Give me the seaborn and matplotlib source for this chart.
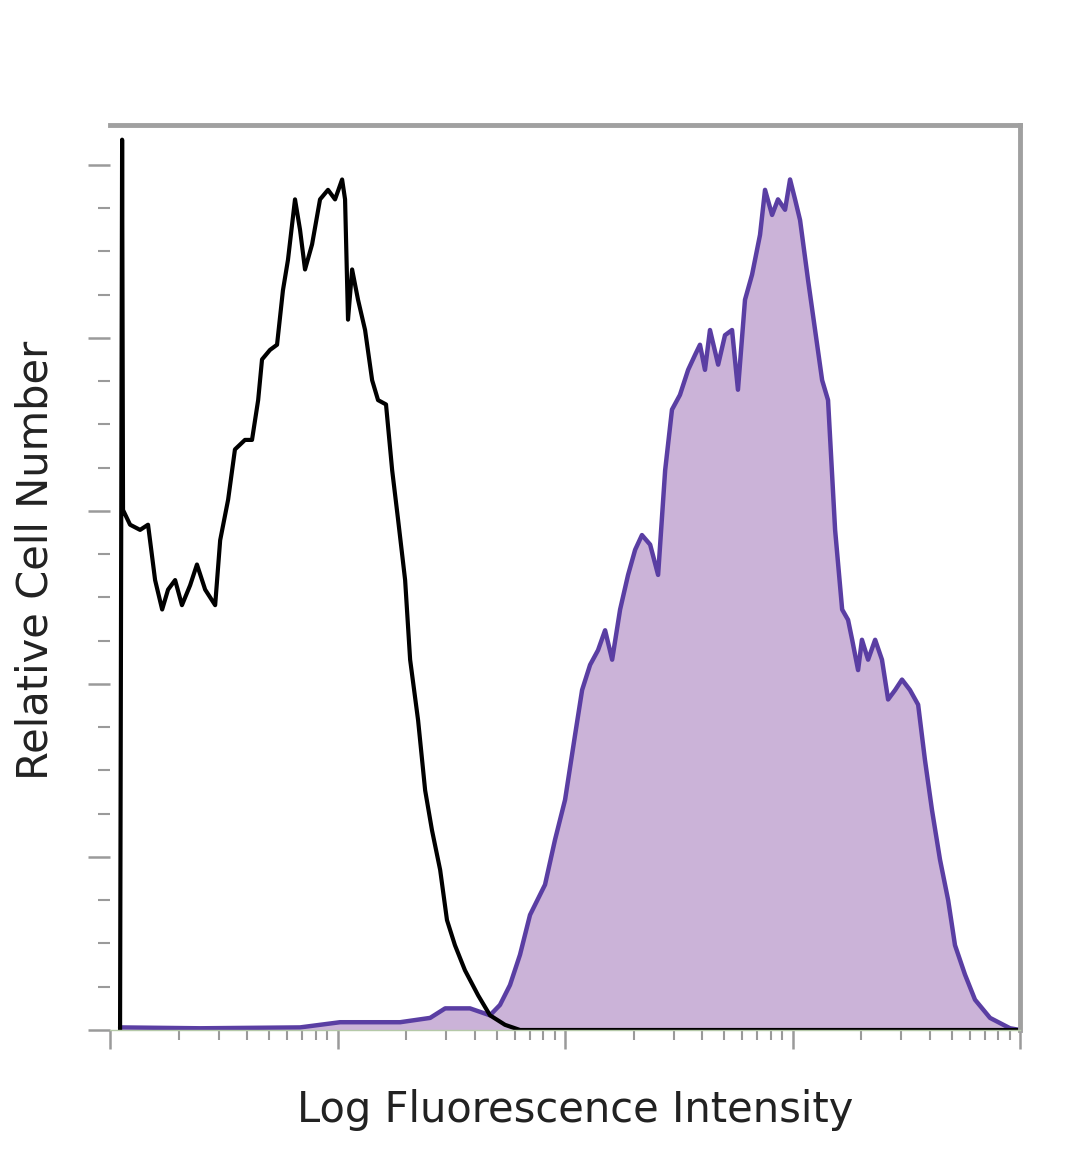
import matplotlib
matplotlib.use('Agg')
import matplotlib.pyplot as plt
import matplotlib.ticker as mticker
import seaborn as sns
import numpy as np
import pandas as pd

# control (unstained) histogram, x in log10 decades, y in relative counts
ctrl_log = [0.044, 0.053, 0.057, 0.088, 0.132, 0.167, 0.198, 0.229, 0.255, 0.286,
            0.316, 0.352, 0.382, 0.418, 0.462, 0.484, 0.519, 0.549, 0.593, 0.624,
            0.651, 0.668, 0.703, 0.734, 0.760, 0.782, 0.813, 0.835, 0.857, 0.888,
            0.923, 0.958, 0.989, 1.020, 1.033, 1.046, 1.064, 1.090, 1.121, 1.152,
            1.178, 1.213, 1.240, 1.266, 1.297, 1.319, 1.354, 1.385, 1.415, 1.451,
            1.481, 1.516, 1.560, 1.618, 1.670, 1.736, 1.802, 4.0]
ctrl_cnt = [0, 102.9, 60.1, 58.4, 57.8, 58.4, 52.0, 48.6, 50.9, 52.0,
            49.1, 51.4, 53.8, 50.9, 49.1, 56.6, 61.3, 67.1, 68.2, 68.2,
            72.8, 77.5, 78.6, 79.2, 85.5, 89.0, 96.0, 92.5, 87.9, 90.8,
            96.0, 97.1, 96.0, 98.3, 96.0, 82.1, 87.9, 84.4, 80.9, 75.1,
            72.8, 72.3, 64.7, 59.0, 52.0, 42.8, 35.8, 27.7, 23.1, 18.5,
            12.7, 9.8, 6.9, 4.0, 1.7, 0.6, 0, 0]

# stained sample histogram
stain_log = [0.044, 0.396, 0.835, 1.011, 1.275, 1.407, 1.473, 1.582, 1.670, 1.714,
             1.758, 1.802, 1.846, 1.912, 1.956, 2.000, 2.044, 2.075, 2.110, 2.145,
             2.176, 2.207, 2.242, 2.277, 2.308, 2.338, 2.374, 2.409, 2.440, 2.470,
             2.505, 2.541, 2.571, 2.593, 2.615, 2.637, 2.673, 2.703, 2.734, 2.760,
             2.791, 2.822, 2.857, 2.879, 2.910, 2.936, 2.967, 2.989, 3.011, 3.033,
             3.068, 3.099, 3.130, 3.156, 3.187, 3.218, 3.244, 3.262, 3.288, 3.305,
             3.332, 3.363, 3.393, 3.420, 3.451, 3.481, 3.516, 3.552, 3.582, 3.613,
             3.648, 3.684, 3.714, 3.758, 3.802, 3.868, 3.956, 4.0]
stain_cnt = [0.3, 0.2, 0.3, 0.9, 0.9, 1.4, 2.5, 2.5, 1.7, 2.9,
             5.2, 8.7, 13.3, 16.8, 22.0, 26.6, 34.1, 39.3, 42.2, 43.9,
             46.2, 42.8, 48.6, 52.6, 55.5, 57.2, 56.1, 52.6, 64.7, 71.7,
             73.4, 76.3, 78.0, 79.2, 76.3, 80.9, 76.9, 80.3, 80.9, 74.0,
             84.4, 87.3, 91.9, 97.1, 94.2, 96.0, 94.8, 98.3, 96.0, 93.6,
             86.7, 80.9, 75.1, 72.8, 57.8, 48.6, 47.4, 45.1, 41.6, 45.1,
             42.8, 45.1, 42.8, 38.2, 39.3, 40.5, 39.3, 37.6, 31.2, 25.4,
             19.7, 15.0, 9.8, 6.4, 3.5, 1.4, 0.2, 0]

ctrl = pd.DataFrame({'intensity': np.power(10.0, ctrl_log), 'count': ctrl_cnt})
stain = pd.DataFrame({'intensity': np.power(10.0, stain_log), 'count': stain_cnt})

sns.set_style('white')
plt.rcParams['font.family'] = ['DejaVu Sans']

fig = plt.figure(figsize=(10.8, 11.69), dpi=100)
ax = fig.add_axes([0.1019, 0.1189, 0.8426, 0.7742])

ax.fill_between(stain['intensity'], stain['count'], color='#cbb3d8', linewidth=0)
sns.lineplot(data=stain, x='intensity', y='count', sort=False, color='#5a3ea3',
             linewidth=3.2, ax=ax)
sns.lineplot(data=ctrl, x='intensity', y='count', sort=False, color='black',
             linewidth=3.0, ax=ax)

ax.set_xscale('log')
ax.set_xlim(1, 1e4)
ax.set_ylim(0, 104.6)

ax.yaxis.set_major_locator(mticker.MultipleLocator(20))
ax.yaxis.set_minor_locator(mticker.MultipleLocator(5))
ax.xaxis.set_major_locator(mticker.LogLocator(base=10, numticks=10))
ax.xaxis.set_minor_locator(mticker.LogLocator(base=10, subs=np.arange(2, 10), numticks=10))
ax.tick_params(axis='both', which='both', colors='#9a9a9a', labelleft=False,
               labelbottom=False, left=True, bottom=True, direction='out')
ax.tick_params(axis='y', which='major', length=16, width=1.8)
ax.tick_params(axis='y', which='minor', length=9, width=1.5)
ax.tick_params(axis='x', which='major', length=14, width=1.8)
ax.tick_params(axis='x', which='minor', length=7, width=1.5)

for side in ['top', 'right']:
    ax.spines[side].set_color('#a0a0a0')
    ax.spines[side].set_linewidth(3.5)
ax.spines['bottom'].set_color('#b5c9a8')
ax.spines['bottom'].set_linewidth(1)
ax.spines['left'].set_visible(False)

ax.set_xlabel('Log Fluorescence Intensity', fontsize=30, color='#222222')
ax.set_ylabel('Relative Cell Number', fontsize=30, color='#222222')
ax.xaxis.label.set_va('center')
ax.yaxis.label.set_va('center')
ax.xaxis.set_label_coords(0.511, -0.0884)
ax.yaxis.set_label_coords(-0.0824, 0.519)

fig.savefig('out.png', dpi=100)
